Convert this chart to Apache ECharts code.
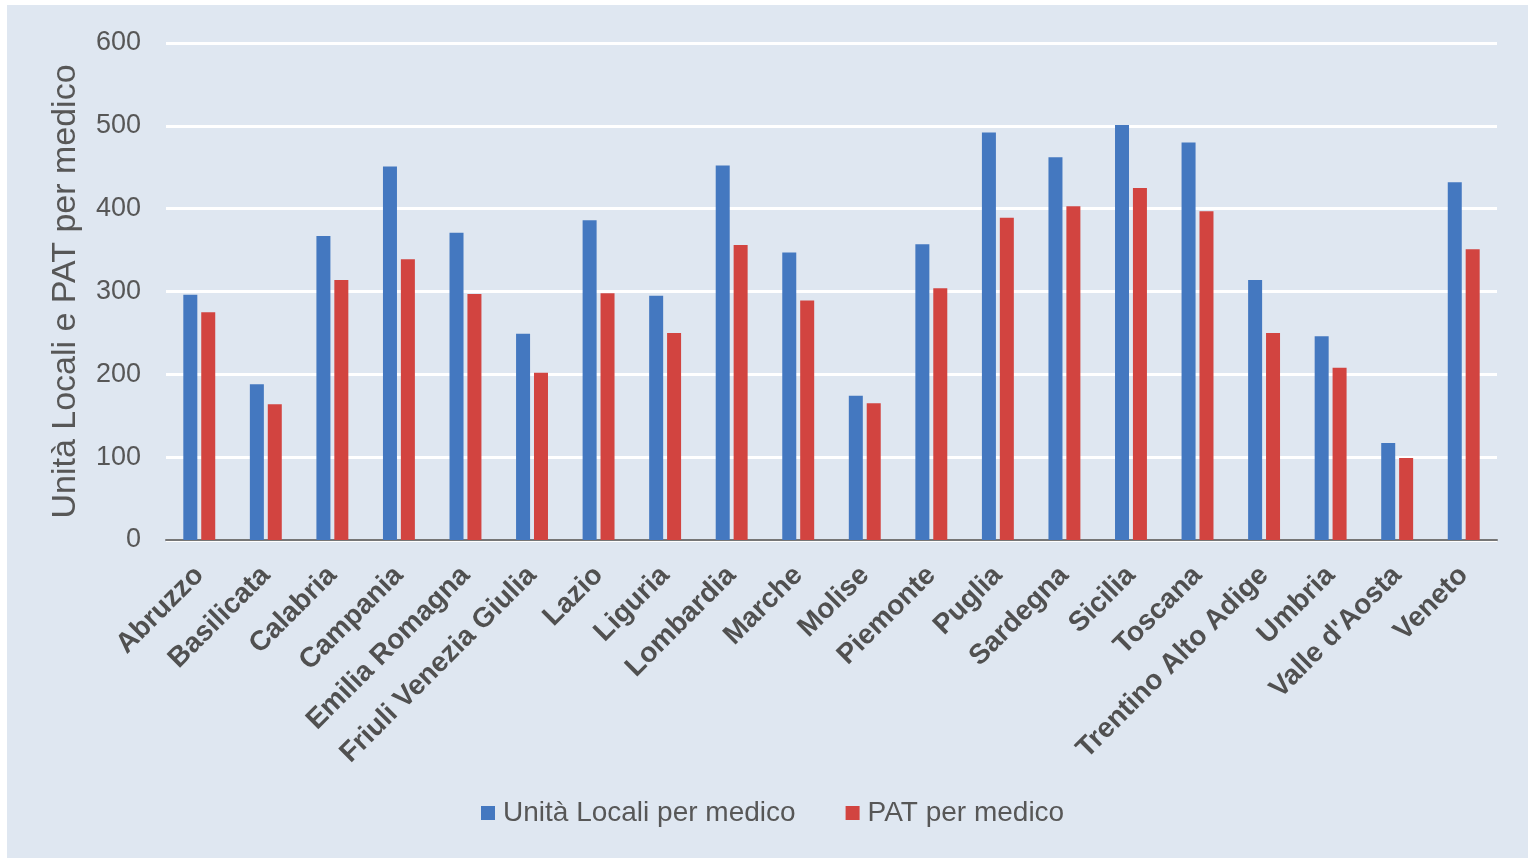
<!DOCTYPE html>
<html>
<head>
<meta charset="utf-8">
<script src="https://cdn.jsdelivr.net/npm/echarts@6/dist/echarts.min.js"></script>
<style>
  html, body { margin: 0; padding: 0; background: #ffffff; }
  #chart { width: 1528px; height: 858px; }
</style>
</head>
<body>
<div id="chart"></div>
<script>
// Regioni italiane
const regions = [
  'Abruzzo', 'Basilicata', 'Calabria', 'Campania', 'Emilia Romagna',
  'Friuli Venezia Giulia', 'Lazio', 'Liguria', 'Lombardia', 'Marche',
  'Molise', 'Piemonte', 'Puglia', 'Sardegna', 'Sicilia',
  'Toscana', 'Trentino Alto Adige', 'Umbria', "Valle d'Aosta", 'Veneto'
];

// Unità Locali per medico
const unitaLocali = [296, 188, 367, 451, 371, 249, 386, 295, 452, 347,
                     174, 357, 492, 462, 501, 480, 314, 246, 117, 432];

// PAT per medico
const patPerMedico = [275, 164, 314, 339, 297, 202, 298, 250, 356, 289,
                      165, 304, 389, 403, 425, 397, 250, 208, 99, 351];

const seriesNames = ['Unità Locali per medico', 'PAT per medico'];
const yAxisTitle = 'Unità Locali e PAT per medico';

const FONT = '"Liberation Sans", Arial, sans-serif';
const TEXT = '#575757';

const chart = echarts.init(document.getElementById('chart'), null, { renderer: 'canvas' });

chart.setOption({
  animation: false,
  backgroundColor: '#ffffff',
  graphic: [{
    type: 'rect',
    left: 7, top: 5,
    shape: { width: 1521, height: 853 },
    style: { fill: '#dfe7f1' },
    z: -10, silent: true
  }],
  textStyle: { fontFamily: FONT },
  grid: { left: 166, right: 31, top: 43, bottom: 318, containLabel: false },
  legend: {
    data: seriesNames,
    bottom: 26,
    left: 476,
    itemWidth: 14,
    itemHeight: 14,
    itemGap: 50,
    icon: 'rect',
    textStyle: { fontFamily: FONT, fontSize: 28, color: TEXT, padding: [0, 0, 0, 3] }
  },
  xAxis: {
    type: 'category',
    data: regions,
    axisTick: { show: false },
    axisLine: { show: true, lineStyle: { color: '#767676', width: 2 } },
    axisLabel: {
      interval: 0,
      rotate: 45,
      margin: 31,
      fontFamily: FONT,
      fontSize: 28,
      fontWeight: 'bold',
      color: '#505050'
    }
  },
  yAxis: {
    type: 'value',
    min: 0, max: 600, interval: 100,
    name: yAxisTitle,
    nameLocation: 'middle',
    nameGap: 83,
    nameTextStyle: { fontFamily: FONT, fontSize: 34, color: TEXT },
    axisLine: { show: false },
    axisTick: { show: false },
    axisLabel: { margin: 25, fontFamily: FONT, fontSize: 27, color: TEXT },
    splitLine: { show: true, lineStyle: { color: '#ffffff', width: 3 } }
  },
  series: [
    {
      name: seriesNames[0],
      type: 'bar',
      data: unitaLocali,
      barWidth: 14,
      barGap: '28%',
      itemStyle: { color: '#4478c0' }
    },
    {
      name: seriesNames[1],
      type: 'bar',
      data: patPerMedico,
      barWidth: 14,
      barGap: '28%',
      itemStyle: { color: '#d24440' }
    }
  ]
});
</script>
</body>
</html>
